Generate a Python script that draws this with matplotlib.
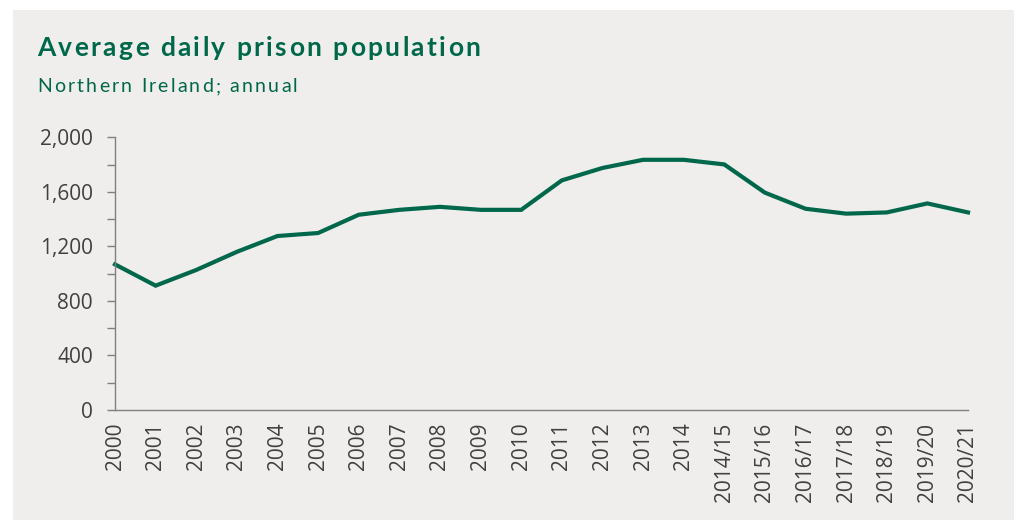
import matplotlib.pyplot as plt
from matplotlib.patches import Rectangle
from matplotlib.ticker import FuncFormatter, MultipleLocator

labels = ["2000", "2001", "2002", "2003", "2004", "2005", "2006", "2007",
          "2008", "2009", "2010", "2011", "2012", "2013", "2014",
          "2014/15", "2015/16", "2016/17", "2017/18", "2018/19",
          "2019/20", "2020/21"]
population = [1068, 912, 1027, 1160, 1276, 1298, 1432, 1468, 1490, 1468,
              1468, 1684, 1775, 1835, 1835, 1801, 1594, 1476, 1440, 1449,
              1515, 1449]

green = "#00684A"
grey_txt = "#404040"
bg = "#EFEEEC"
W, H = 1016, 520

fig = plt.figure(figsize=(W / 100, H / 100), dpi=100)
fig.patch.set_facecolor("white")
fig.patches.append(Rectangle((13 / W, 0), 1001 / W, 510 / H,
                             transform=fig.transFigure, facecolor=bg,
                             edgecolor="none", zorder=-10))

ax = fig.add_axes([115 / W, 1 - 410 / H, (968 - 115) / W, (410 - 137.3) / H])
ax.set_facecolor("none")

x = list(range(len(labels)))
ax.plot(x, population, color=green, lw=3.0, solid_joinstyle="miter", clip_on=False)

ax.set_xlim(0, len(labels) - 1)
ax.set_ylim(0, 2000)
ax.yaxis.set_major_locator(MultipleLocator(400))
ax.yaxis.set_minor_locator(MultipleLocator(200))
ax.yaxis.set_major_formatter(FuncFormatter(lambda v, p: f"{int(v):,}"))
ax.set_xticks(x)
ax.set_xticklabels(labels, rotation=90, fontsize=15, color=grey_txt,
                   family="Open Sans")
for t in ax.get_yticklabels():
    t.set_fontsize(15)
    t.set_color(grey_txt)
    t.set_family("Open Sans")
ax.tick_params(axis="x", length=0, pad=9)
ax.tick_params(axis="y", which="both", length=6, color="#7f7f7f", width=1, pad=10)

for s in ["top", "right"]:
    ax.spines[s].set_visible(False)
for s in ["left", "bottom"]:
    ax.spines[s].set_color("#7f7f7f")
    ax.spines[s].set_linewidth(1)


# matplotlib has no letter spacing, so place each character by hand
def spaced_text(x0, y0, s, spacing, **kw):
    r = fig.canvas.get_renderer()

    def width(txt):
        t = fig.text(0, 0, txt, **kw)
        w = t.get_window_extent(r).width
        t.remove()
        return w

    for i, ch in enumerate(s):
        if ch == " ":
            continue
        left = x0 + width(s[:i + 1]) - width(ch) + i * spacing
        fig.text(left / W, 1 - y0 / H, ch, **kw)


spaced_text(37, 56, "Average daily prison population", 2.4,
            fontsize=19, fontweight="bold", color=green, family="Lato")
spaced_text(37, 92, "Northern Ireland; annual", 2.2,
            fontsize=14, color=green, family="Lato")

fig.savefig("out.png", dpi=100, facecolor="white")
